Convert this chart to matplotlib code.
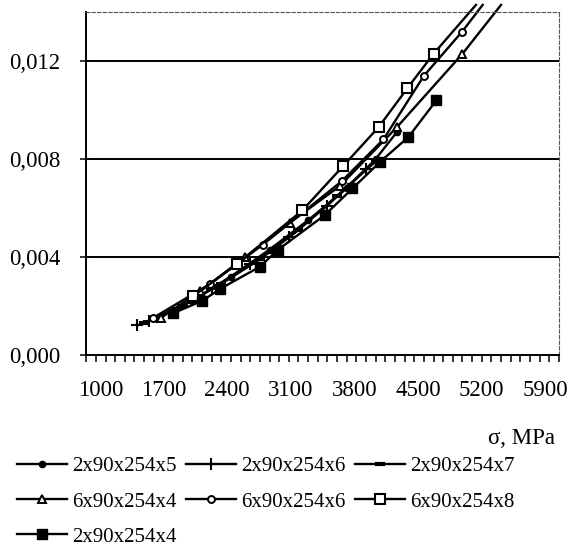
import matplotlib.pyplot as plt
import matplotlib.transforms as mtransforms
from matplotlib.ticker import MultipleLocator, FuncFormatter

# stress (MPa) and strain for each specimen series
s_2x5 = [1700, 2100, 2500, 2900, 3300, 3700, 4000, 4220]
e_2x5 = [0.0015, 0.0022, 0.0032, 0.0043, 0.0055, 0.0068, 0.0080, 0.0091]

s_2x6 = [1530, 1650, 1950, 2300, 2700, 3100, 3500, 3900]
e_2x6 = [0.0012, 0.0014, 0.0019, 0.0027, 0.0037, 0.0048, 0.0061, 0.0076]

s_2x7 = [1600, 2000, 2400, 2800, 3200, 3600, 4000]
e_2x7 = [0.0013, 0.0020, 0.0029, 0.0039, 0.0051, 0.0065, 0.0079]

s_6x4 = [1770, 2180, 2650, 3110, 3630, 4220, 4900, 5300]
e_6x4 = [0.0015, 0.0026, 0.0040, 0.0054, 0.0069, 0.0093, 0.0123, 0.0143]

s_6x6 = [1690, 2285, 2830, 3650, 4080, 4500, 4895, 5110]
e_6x6 = [0.0015, 0.0029, 0.0045, 0.0071, 0.0088, 0.0114, 0.0132, 0.0143]

s_6x8 = [2110, 2560, 3240, 3660, 4030, 4330, 4600, 5040]
e_6x8 = [0.0024, 0.0037, 0.0059, 0.0077, 0.0093, 0.0109, 0.0123, 0.0143]

s_2x4 = [1900, 2200, 2390, 2800, 2990, 3470, 3760, 4050, 4340, 4630]
e_2x4 = [0.0017, 0.0022, 0.0027, 0.0036, 0.0043, 0.0057, 0.0068, 0.0079, 0.0089, 0.0104]

x_ticks = [1000, 1700, 2400, 3100, 3800, 4500, 5200, 5900]
y_ticks = [0.000, 0.004, 0.008, 0.012]

plt.rcParams['font.family'] = ['Liberation Serif', 'DejaVu Serif']
fs = 15
tfs = 16.5

fig = plt.figure(figsize=(5.75, 5.57), dpi=100)
ax = fig.add_axes([0.150, 0.363, 0.822, 0.615])

# horizontal grid lines
for yv in y_ticks[1:]:
    ax.axhline(yv, color='black', lw=1.4, zorder=1)

lw = 1.7
h = {}
h['2x5'], = ax.plot(s_2x5, e_2x5, '-', color='black', lw=lw, marker='o', ms=4.5, mfc='black', label='2x90x254x5')
h['2x6'], = ax.plot(s_2x6, e_2x6, '-', color='black', lw=lw, marker='+', ms=8, mew=1.5, label='2x90x254x6')
h['2x7'], = ax.plot(s_2x7, e_2x7, '-', color='black', lw=lw, marker='_', ms=7, mew=3, label='2x90x254x7')
# the three steepest curves run a little past the top border, like in the original
h['6x4'], = ax.plot(s_6x4, e_6x4, '-', color='black', lw=lw, marker='^', ms=6, mfc='white', mew=1.4,
                    markevery=slice(0, -1), clip_on=False, label='6x90x254x4')
h['6x6'], = ax.plot(s_6x6, e_6x6, '-', color='black', lw=lw, marker='o', ms=5, mfc='white', mew=1.4,
                    markevery=slice(0, -1), clip_on=False, label='6x90x254x6')
h['6x8'], = ax.plot(s_6x8, e_6x8, '-', color='black', lw=lw, marker='s', ms=6.5, mfc='white', mew=1.5,
                    markevery=slice(0, -1), clip_on=False, label='6x90x254x8')
h['2x4'], = ax.plot(s_2x4, e_2x4, '-', color='black', lw=lw, marker='s', ms=7, mfc='black', label='2x90x254x4')

ax.set_xlim(1000, 5900)
ax.set_ylim(0, 0.014)
ax.set_xticks(x_ticks)
ax.set_yticks(y_ticks)
ax.xaxis.set_minor_locator(MultipleLocator(100))
ax.yaxis.set_major_formatter(FuncFormatter(lambda v, p: f'{v:.3f}'.replace('.', ',')))
ax.tick_params(axis='x', which='both', direction='out', length=5, width=1.1, labelsize=tfs, pad=13)
ax.tick_params(axis='y', which='major', direction='inout', length=9, width=1.1, labelsize=tfs, pad=14)

# x labels in the original sit slightly inward from the ends
fig.canvas.draw()
n = len(x_ticks)
for i, lab in enumerate(ax.get_xticklabels()):
    dx = (14 - 28 * i / (n - 1)) / 100
    lab.set_transform(lab.get_transform() + mtransforms.ScaledTranslation(dx, 0, fig.dpi_scale_trans))

for side in ['top', 'right']:
    ax.spines[side].set_linestyle((0, (3, 2)))
    ax.spines[side].set_color('#555555')
    ax.spines[side].set_linewidth(0.8)
for side in ['left', 'bottom']:
    ax.spines[side].set_linewidth(1.4)

fig.text(0.965, 0.213, 'σ, MPa', ha='right', va='center', fontsize=tfs)

order = ['2x5', '6x4', '2x4', '2x6', '6x6', '2x7', '6x8']
fig.legend([h[k] for k in order], [h[k].get_label() for k in order],
           loc='upper left', bbox_to_anchor=(0.015, 0.195), ncol=3, frameon=False,
           fontsize=fs, handlelength=2.4, handletextpad=0.25, columnspacing=0.45,
           labelspacing=0.75, borderaxespad=0)

fig.savefig('out.png', dpi=100)
